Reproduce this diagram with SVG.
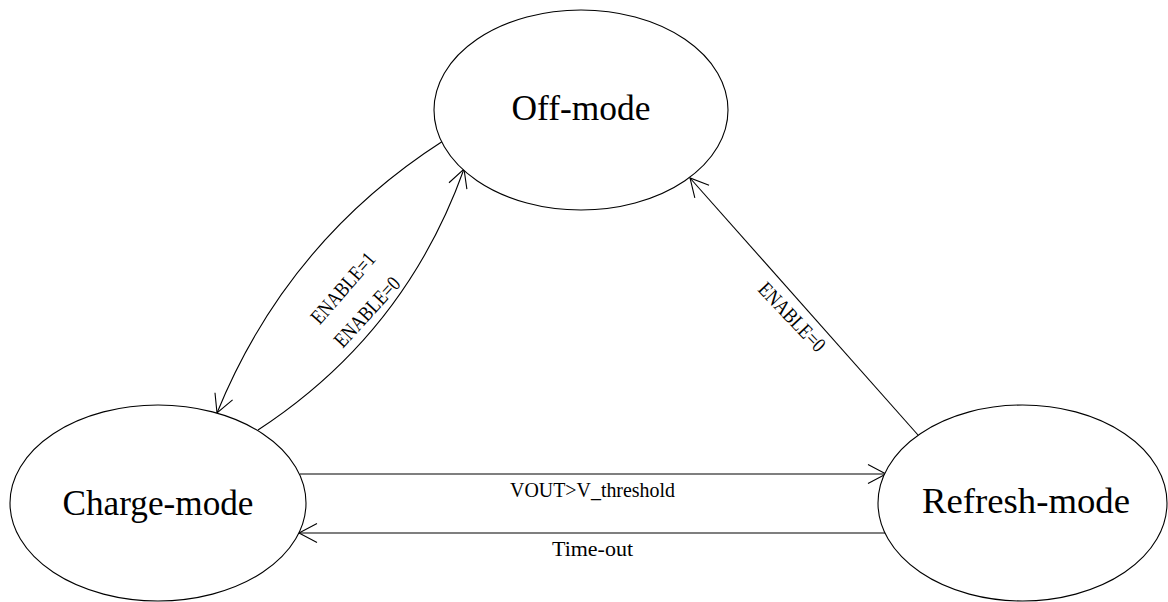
<svg xmlns="http://www.w3.org/2000/svg" width="1168" height="602" viewBox="0 0 1168 602">
  <style>
    .node ellipse { fill: #ffffff; stroke: #000000; stroke-width: 1.1; }
    .big { font-family: "Liberation Serif", "DejaVu Serif", serif; font-size: 35px; fill: #000000; text-anchor: middle; }
    .small { font-family: "Liberation Serif", "DejaVu Serif", serif; font-size: 21px; fill: #000000; text-anchor: middle; }
    .edge { fill: none; stroke: #000000; stroke-width: 1.1; marker-end: url(#arrow); }
  </style>
  <defs>
    <marker id="arrow" viewBox="-22 -12 24 24" refX="0" refY="0" markerWidth="24" markerHeight="24" markerUnits="userSpaceOnUse" orient="auto" overflow="visible">
      <path d="M-18,-9.5 L0,0 L-18,9.5" fill="none" stroke="#000000" stroke-width="1.1"/>
    </marker>
  </defs>
  <rect width="1168" height="602" fill="#ffffff"/>

  <g id="connectors">
    <path class="edge" d="M443,141 Q287,241 217,413"/>
    <path class="edge" d="M258,430 Q405,334 464,169"/>
    <path class="edge" d="M918,435 L690,178"/>
    <path class="edge" d="M300,474 L886,474"/>
    <path class="edge" d="M885,533 L299,533"/>
    <text class="small" transform="translate(343,288) rotate(-49)" x="0" y="7" textLength="87" lengthAdjust="spacingAndGlyphs">ENABLE=1</text>
    <text class="small" transform="translate(367,312) rotate(-47.5)" x="0" y="7" textLength="87" lengthAdjust="spacingAndGlyphs">ENABLE=0</text>
    <text class="small" transform="translate(792,317) rotate(46.5)" x="0" y="7" textLength="87" lengthAdjust="spacingAndGlyphs">ENABLE=0</text>
    <text class="small" x="592.5" y="497" textLength="165" lengthAdjust="spacingAndGlyphs">VOUT&gt;V_threshold</text>
    <text class="small" x="592.5" y="556" textLength="81" lengthAdjust="spacingAndGlyphs">Time-out</text>
  </g>

  <g id="off-mode" class="node">
    <ellipse cx="581" cy="110" rx="147" ry="100"/>
    <text class="big" x="581" y="120" textLength="139" lengthAdjust="spacingAndGlyphs">Off-mode</text>
  </g>
  <g id="charge-mode" class="node">
    <ellipse cx="158" cy="503" rx="148" ry="98"/>
    <text class="big" x="158" y="515" textLength="191" lengthAdjust="spacingAndGlyphs">Charge-mode</text>
  </g>
  <g id="refresh-mode" class="node">
    <ellipse cx="1022.5" cy="503" rx="144.5" ry="98"/>
    <text class="big" x="1026" y="513" textLength="208" lengthAdjust="spacingAndGlyphs">Refresh-mode</text>
  </g>
</svg>
